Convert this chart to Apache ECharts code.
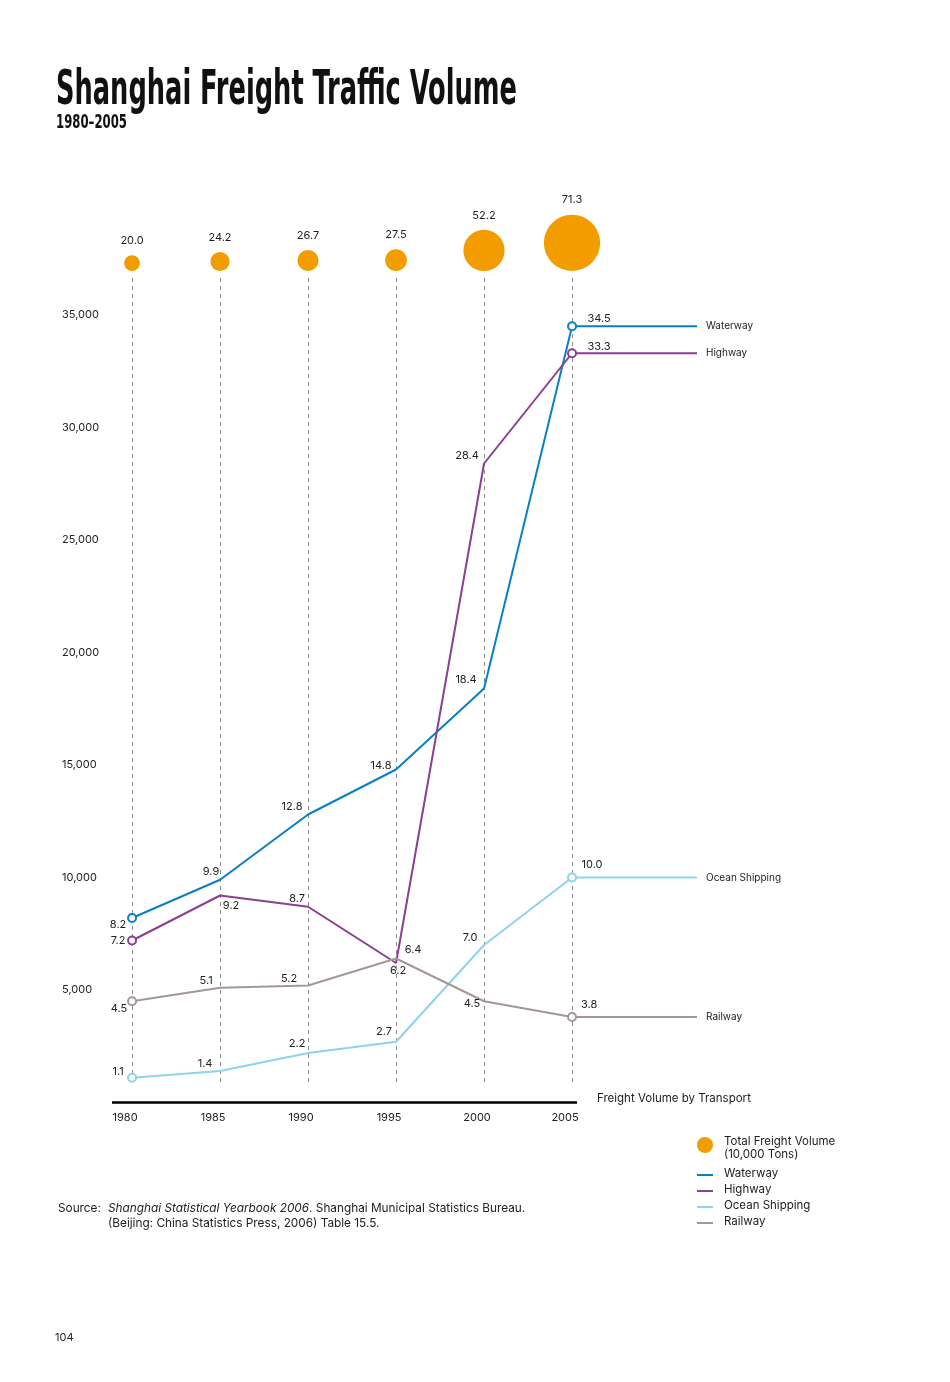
<!DOCTYPE html>
<html>
<head>
<meta charset="utf-8">
<script src="https://cdn.jsdelivr.net/npm/echarts@6/dist/echarts.min.js"></script>
<style>
html,body{margin:0;padding:0;background:#fff;}
#c{width:950px;height:1382px;}
</style>
</head>
<body>
<div id="c"></div>
<script>
// ---------------- data ----------------
const years = [1980, 1985, 1990, 1995, 2000, 2005];
const totalVolume = [20.0, 24.2, 26.7, 27.5, 52.2, 71.3];      // 10,000 tons (bubbles)
const waterway = [8.2, 9.9, 12.8, 14.8, 18.4, 34.5];            // thousands
const highway = [7.2, 9.2, 8.7, 6.2, 28.4, 33.3];
const oceanShipping = [1.1, 1.4, 2.2, 2.7, 7.0, 10.0];
const railway = [4.5, 5.1, 5.2, 6.4, 4.5, 3.8];
const seriesNames = ['Waterway', 'Highway', 'Ocean Shipping', 'Railway'];
const bubbleName = 'Total Freight Volume\n(10,000 Tons)';
const titleText = 'Shanghai Freight Traffic Volume';
const subtitleText = '1980\u20132005';
const xAxisName = 'Freight Volume by Transport';
const unit = 1000;

// ---------------- styling / layout (not data) ----------------
const FONT = 'Inter, "Noto Sans", sans-serif';
const colors = {
  'Waterway': '#0b7fc4',
  'Highway': '#8e3d95',
  'Ocean Shipping': '#8dd3ee',
  'Railway': '#a59797',
  bubble: '#f39c00'
};
const labelOffsets = {
  'Waterway':       [[-14, 7], [-9, -8], [-16, -8], [-15, -4], [-18, -9], [27, -8]],
  'Highway':        [[-14, 0], [11, 10], [-11, -8], [2, 8], [-17, -8], [27, -7]],
  'Ocean Shipping': [[-14, -6], [-15, -7], [-11, -9], [-12, -10], [-14, -7], [20, -13]],
  'Railway':        [[-13, 7], [-14, -7], [-19, -7], [17, -9], [-12, 2], [17, -12]]
};
const extendTo = 2012.1;          // x where the flat tail of each line ends
const xMin = 1978.86, axisEnd = 2005.28;

function measure(font, text) {
  const ctx = document.createElement('canvas').getContext('2d');
  ctx.font = font;
  return ctx.measureText(text).width;
}
const titleFont = 'bold 48px "DejaVu Sans Condensed", "DejaVu Sans"';
const subFont = 'bold 20px "DejaVu Sans Condensed", "DejaVu Sans"';
const titleScale = 461 / measure(titleFont, titleText);
const subScale = 71 / measure(subFont, subtitleText);

function lineSeries(name, vals, extra) {
  const color = colors[name];
  const offs = labelOffsets[name];
  const data = vals.map((v, i) => ({
    value: [years[i], v * unit],
    symbolSize: (i === 0 || i === vals.length - 1) ? 8 : 0,
    label: { offset: offs[i] }
  }));
  data.push({ value: [extendTo, vals[vals.length - 1] * unit], symbol: 'none', label: { show: false } });
  return Object.assign({
    type: 'line', name: name, xAxisIndex: 0, yAxisIndex: 0,
    data: data, color: color,
    symbol: 'emptyCircle', showSymbol: true, showAllSymbol: true,
    lineStyle: { width: 2, color: color },
    itemStyle: { color: color, borderWidth: 2 },
    label: {
      show: true, position: 'inside', align: 'center', verticalAlign: 'middle',
      formatter: p => (p.value[1] / unit).toFixed(1),
      fontSize: 11, color: '#222', fontFamily: FONT
    },
    endLabel: { show: true, formatter: '{a}', fontSize: 10, color: '#222', fontFamily: FONT, distance: 9 },
    emphasis: { disabled: true },
    z: 3
  }, extra || {});
}

// black baseline of the x axis (stops at 2005) with the axis title at its end
const baseline = {
  markLine: {
    silent: true, symbol: 'none', animation: false,
    lineStyle: { color: '#000', width: 2.5, type: 'solid' },
    label: {
      show: true, position: 'end', distance: 20, formatter: xAxisName, offset: [0, -4],
      fontSize: 11.5, color: '#222', fontFamily: FONT
    },
    emphasis: { disabled: true },
    data: [[{ coord: [xMin, 0] }, { coord: [axisEnd, 0] }]]
  }
};

const linePath = 'path://M0,0M22,16M0,8.5L16,8.5L16,10.5L0,10.5Z';
const circlePath = 'path://M0,0M22,22M0,8A8,8,0,1,1,16,8A8,8,0,1,1,0,8Z';

const chart = echarts.init(document.getElementById('c'), null, { renderer: 'canvas' });
chart.setOption({
  animation: false,
  backgroundColor: '#fff',
  textStyle: { fontFamily: FONT },
  grid: [
    { left: 112, top: 315, width: 585, height: 787.5, containLabel: false },
    { left: 132, top: 278, width: 440, height: 807, containLabel: false },
    { left: 132, top: 200, width: 440, height: 71, containLabel: false }
  ],
  xAxis: [
    {
      gridIndex: 0, type: 'value', min: xMin, max: extendTo,
      axisLine: { show: false },
      axisTick: { show: false }, splitLine: { show: false },
      axisLabel: {
        customValues: years, margin: 10, fontSize: 11, color: '#222', fontFamily: FONT,
        padding: [0, 14, 0, 0],
        formatter: v => (Math.abs(v - Math.round(v)) < 1e-6 && Math.round(v) % 5 === 0 && v <= 2005) ? String(Math.round(v)) : ''
      }
    },
    {
      gridIndex: 1, type: 'value', min: 1980, max: 2005, interval: 5,
      axisLine: { show: false }, axisTick: { show: false }, axisLabel: { show: false },
      splitLine: { show: true, lineStyle: { color: '#8c8c8c', width: 1, type: [4, 4] } }
    },
    {
      gridIndex: 2, type: 'value', min: 1980, max: 2005, interval: 5, show: false
    }
  ],
  yAxis: [
    {
      gridIndex: 0, type: 'value', min: 0, max: 35000, interval: 5000,
      axisLine: { show: false }, axisTick: { show: false }, splitLine: { show: false },
      axisLabel: {
        align: 'left', margin: 50, fontSize: 11, color: '#222', fontFamily: FONT,
        formatter: v => v === 0 ? '' : v.toLocaleString('en-US')
      }
    },
    { gridIndex: 1, type: 'value', min: 0, max: 1, show: false },
    { gridIndex: 2, type: 'value', min: 0, max: 1, show: false }
  ],
  legend: [
    {
      data: [{ name: bubbleName, icon: circlePath }],
      orient: 'vertical', left: 697, top: 1135.5, padding: 0,
      itemWidth: 22, itemHeight: 22, selectedMode: false,
      itemStyle: { borderWidth: 0 },
      textStyle: { fontSize: 11.5, color: '#222', fontFamily: FONT, lineHeight: 12.5 }
    },
    {
      data: seriesNames.map(n => ({ name: n, icon: linePath })),
      orient: 'vertical', left: 697, top: 1165.5, padding: 0, itemGap: 0,
      itemWidth: 22, itemHeight: 16, selectedMode: false,
      itemStyle: { borderWidth: 0 },
      textStyle: { fontSize: 11.5, color: '#222', fontFamily: FONT }
    }
  ],
  series: [
    {
      type: 'scatter', name: bubbleName, xAxisIndex: 2, yAxisIndex: 2,
      data: years.map((y, i) => [y, 0, totalVolume[i]]),
      symbol: 'circle',
      symbolSize: v => v[2] * 0.79,
      symbolOffset: [0, '-50%'],
      clip: false,
      itemStyle: { color: colors.bubble, opacity: 1 },
      label: {
        show: true, position: 'top', distance: 9,
        formatter: p => p.value[2].toFixed(1),
        fontSize: 11, color: '#222', fontFamily: FONT
      },
      emphasis: { disabled: true },
      z: 3
    },
    lineSeries('Waterway', waterway, baseline),
    lineSeries('Highway', highway),
    lineSeries('Ocean Shipping', oceanShipping),
    lineSeries('Railway', railway)
  ],
  graphic: [
    {
      type: 'text', x: 56, y: 92, scaleX: titleScale,
      style: { text: titleText, font: titleFont, fill: '#111', verticalAlign: 'middle' }
    },
    {
      type: 'text', x: 56, y: 123, scaleX: subScale,
      style: { text: subtitleText, font: subFont, fill: '#111', verticalAlign: 'middle' }
    },
    {
      type: 'text', x: 58, y: 1208,
      style: { text: 'Source:', fontSize: 11.8, fontFamily: FONT, fill: '#222', verticalAlign: 'middle' }
    },
    {
      type: 'text', x: 108, y: 1201,
      style: {
        text: '{i|Shanghai Statistical Yearbook 2006}{n|. Shanghai Municipal Statistics Bureau.}\n{n|(Beijing: China Statistics Press, 2006) Table 15.5.}',
        fontSize: 11.8, fontFamily: FONT, fill: '#222', verticalAlign: 'top', lineHeight: 15,
        rich: {
          i: { fontStyle: 'italic', fontSize: 11.8, fontFamily: FONT, fill: '#222', lineHeight: 15 },
          n: { fontSize: 11.8, fontFamily: FONT, fill: '#222', lineHeight: 15 }
        }
      }
    },
    {
      type: 'text', x: 55, y: 1338,
      style: { text: '104', fontSize: 11, fontFamily: FONT, fill: '#222', verticalAlign: 'middle' }
    }
  ]
});
</script>
</body>
</html>
